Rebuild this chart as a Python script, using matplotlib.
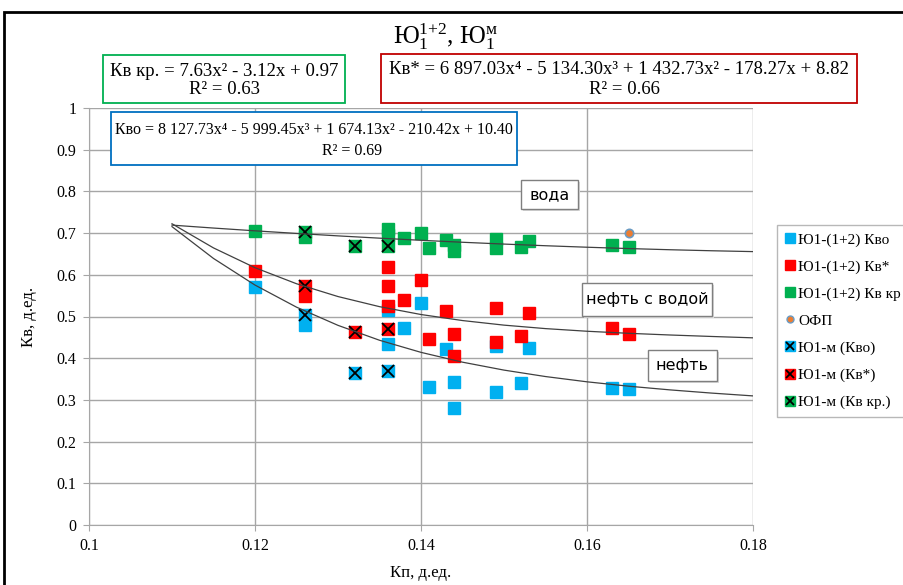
import numpy as np
import matplotlib
matplotlib.use('Agg')
import matplotlib.pyplot as plt
from matplotlib.lines import Line2D
from matplotlib.patches import Rectangle

plt.rcParams['font.family'] = ['Liberation Serif', 'DejaVu Serif']
plt.rcParams['mathtext.fontset'] = 'custom'
plt.rcParams['mathtext.rm'] = 'Liberation Serif'
plt.rcParams['mathtext.it'] = 'Liberation Serif:italic'

# Ю1-(1+2)
kvo_x = [0.12, 0.126, 0.136, 0.136, 0.138, 0.14, 0.141, 0.143, 0.144, 0.144, 0.149, 0.149, 0.152, 0.153, 0.163, 0.165]
kvo_y = [0.57, 0.48, 0.516, 0.434, 0.472, 0.533, 0.332, 0.422, 0.343, 0.28, 0.319, 0.43, 0.34, 0.425, 0.329, 0.326]
kv_x = [0.12, 0.126, 0.136, 0.136, 0.136, 0.138, 0.14, 0.141, 0.143, 0.144, 0.144, 0.149, 0.149, 0.152, 0.153, 0.163, 0.165]
kv_y = [0.61, 0.55, 0.619, 0.573, 0.524, 0.54, 0.588, 0.446, 0.513, 0.458, 0.406, 0.521, 0.44, 0.453, 0.509, 0.472, 0.458]
kvkr_x = [0.12, 0.126, 0.136, 0.136, 0.138, 0.14, 0.141, 0.143, 0.144, 0.144, 0.149, 0.149, 0.152, 0.153, 0.163, 0.165]
kvkr_y = [0.705, 0.691, 0.71, 0.695, 0.688, 0.7, 0.665, 0.683, 0.671, 0.657, 0.686, 0.664, 0.667, 0.681, 0.671, 0.667]
ofp_x = [0.165]
ofp_y = [0.701]

# Ю1-м
m_x = [0.126, 0.132, 0.136]
m_kvo = [0.504, 0.364, 0.369]
m_kv = [0.574, 0.464, 0.47]
m_kvkr = [0.703, 0.67, 0.67]

# trendline coefficients (highest power first), as printed on the chart
coef_kvkr = [7.63, -3.12, 0.97]
coef_kv = [6897.03, -5134.30, 1432.73, -178.27, 8.82]
coef_kvo = [8127.73, -5999.45, 1674.13, -210.42, 10.40]
trend_from, trend_to = 0.11, 0.18

xticks = [0.1, 0.12, 0.14, 0.16, 0.18]
xtick_labels = ['0.1', '0.12', '0.14', '0.16', '0.18']
yticks = [0, 0.1, 0.2, 0.3, 0.4, 0.5, 0.6, 0.7, 0.8, 0.9, 1]
ytick_labels = ['0', '0.1', '0.2', '0.3', '0.4', '0.5', '0.6', '0.7', '0.8', '0.9', '1']

blue = '#00B0F0'
red = '#FF0000'
green = '#00B050'

W, H = 904, 585
fig = plt.figure(figsize=(W / 100, H / 100), dpi=100)
ax = fig.add_axes([89 / W, 1 - 525 / H, (753 - 89) / W, (525 - 108) / H])


def fx(px):
    return px / W


def fy(py):
    return 1 - py / H


ms = 8.5
ax.plot(kvo_x, kvo_y, 's', color=blue, ms=ms, mec=blue, zorder=3)
ax.plot(kv_x, kv_y, 's', color=red, ms=ms, mec=red, zorder=3)
ax.plot(kvkr_x, kvkr_y, 's', color=green, ms=ms, mec=green, zorder=3)
ax.plot(ofp_x, ofp_y, 'o', color='#ED7D31', ms=6, mec='#6A9BC3', mew=1.2, zorder=3)
for ys, c in [(m_kvo, blue), (m_kv, red), (m_kvkr, green)]:
    ax.plot(m_x, ys, 's', color=c, ms=9, mec=c, zorder=3)
    ax.plot(m_x, ys, 'x', color='black', ms=8, mew=1.3, zorder=3.5)

xt = np.linspace(trend_from, trend_to, 15)
for coef in [coef_kvkr, coef_kv, coef_kvo]:
    ax.plot(xt, np.polyval(coef, xt), color='#404040', lw=0.9, zorder=4)

ax.set_xlim(0.1, 0.18)
ax.set_ylim(0, 1)
ax.set_xticks(xticks)
ax.set_xticklabels(xtick_labels)
ax.set_yticks(yticks)
ax.set_yticklabels(ytick_labels)
ax.grid(True, color='#A6A6A6', lw=1)
ax.set_axisbelow(True)
for s in ax.spines.values():
    s.set_color('#A6A6A6')
ax.spines['top'].set_visible(False)
ax.spines['right'].set_visible(False)
ax.tick_params(labelsize=11.5, color='#A6A6A6', length=4, pad=5)
ax.set_xlabel('Кп, д.ед.', fontsize=12, labelpad=8)
ax.set_ylabel('Кв, д.ед.', fontsize=12, labelpad=14)

fig.text(fx(445), fy(37), 'Ю$_1^{1{+}2}$, Ю$_1^{\\mathrm{м}}$', fontsize=18,
         ha='center', va='center')

# equation boxes
boxes = [
    ((103, 55, 345, 103), '#00B050', 13.5, 'Кв кр. = 7.63x² - 3.12x + 0.97', 'R² = 0.63', 224, 71, 225, 90),
    ((381, 54, 857, 103), '#C00000', 13.5, 'Кв* = 6 897.03x⁴ - 5 134.30x³ + 1 432.73x² - 178.27x + 8.82', 'R² = 0.66', 619, 70, 624, 89),
    ((111, 112, 517, 165), '#0070C0', 11.5, 'Кво = 8 127.73x⁴ - 5 999.45x³ + 1 674.13x² - 210.42x + 10.40', 'R² = 0.69', 314, 130, 352, 151),
]
for (x0, y0, x1, y1), ec, fs, l1, l2, tx1, ty1, tx2, ty2 in boxes:
    fig.patches.append(Rectangle((fx(x0), fy(y1)), fx(x1 - x0), (y1 - y0) / H,
                                 transform=fig.transFigure, fc='white', ec=ec, lw=1.3, zorder=5))
    fig.text(fx(tx1), fy(ty1), l1, fontsize=fs, ha='center', va='center', zorder=6)
    fig.text(fx(tx2), fy(ty2), l2, fontsize=fs, ha='center', va='center', zorder=6)

# zone labels
zones = [((521, 180, 578, 209), 'вода'),
         ((582, 283, 712, 316), 'нефть с водой'),
         ((648, 350, 717, 381), 'нефть')]
for (x0, y0, x1, y1), lab in zones:
    fig.patches.append(Rectangle((fx(x0) + 0.002, fy(y1) - 0.003), fx(x1 - x0), (y1 - y0) / H,
                                 transform=fig.transFigure, fc='#D9D9D9', ec='none', zorder=5))
    fig.patches.append(Rectangle((fx(x0), fy(y1)), fx(x1 - x0), (y1 - y0) / H,
                                 transform=fig.transFigure, fc='white', ec='#7F7F7F', lw=1, zorder=5))
    fig.text(fx((x0 + x1) / 2), fy((y0 + y1) / 2), lab, fontsize=11.5, family='DejaVu Sans',
             ha='center', va='center', zorder=6)

# legend
xm = dict(marker='x', color='k', ls='', ms=6, mew=1.3)
handles = [
    Line2D([], [], marker='s', color=blue, ls='', ms=7),
    Line2D([], [], marker='s', color=red, ls='', ms=7),
    Line2D([], [], marker='s', color=green, ls='', ms=7),
    Line2D([], [], marker='o', color='#ED7D31', mec='#6A9BC3', ls='', ms=5),
    (Line2D([], [], marker='s', color=blue, ls='', ms=7), Line2D([], [], **xm)),
    (Line2D([], [], marker='s', color=red, ls='', ms=7), Line2D([], [], **xm)),
    (Line2D([], [], marker='s', color=green, ls='', ms=7), Line2D([], [], **xm)),
]
labels = ['Ю1-(1+2) Кво', 'Ю1-(1+2) Кв*', 'Ю1-(1+2) Кв кр', 'ОФП',
          'Ю1-м (Кво)', 'Ю1-м (Кв*)', 'Ю1-м (Кв кр.)']
leg = fig.legend(handles, labels, loc='upper left', bbox_to_anchor=(fx(777), fy(225)),
                 fontsize=11, frameon=True, fancybox=False, edgecolor='#A6A6A6',
                 handlelength=0.7, handletextpad=0.2, labelspacing=0.87,
                 borderpad=0.5, borderaxespad=0)
leg.get_frame().set_linewidth(1)

# outer chart frame
fig.patches.append(Rectangle((fx(4), -0.1), 1.2, fy(12) + 0.1, transform=fig.transFigure,
                             fc='none', ec='black', lw=2, zorder=10))

fig.savefig('out.png', dpi=100)
